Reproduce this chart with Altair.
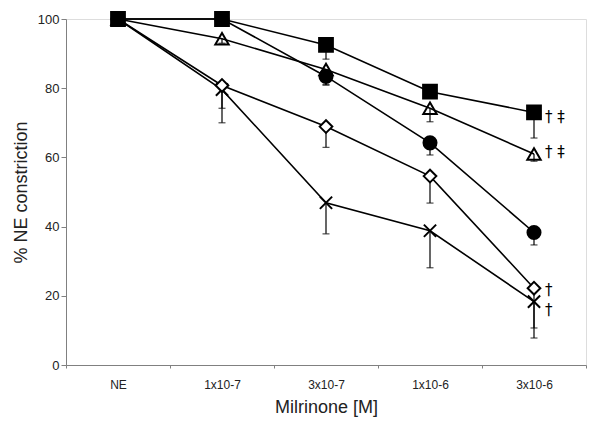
import altair as alt
import pandas as pd

doses = ["NE", "1x10-7", "3x10-7", "1x10-6", "3x10-6"]
series = ["square", "triangle", "circle", "diamond", "cross"]

means = {
    "square":   [100, 100, 92.5, 79.0, 73.0],
    "triangle": [100, 94.3, 85.4, 74.2, 61.0],
    "circle":   [100, 100, 83.4, 64.2, 38.3],
    "diamond":  [100, 80.8, 68.9, 54.6, 22.2],
    "cross":    [100, 79.6, 46.9, 38.8, 18.3],
}
err_low = {
    "square":   [None, None, 88.4, 77.5, 65.6],
    "triangle": [None, 93.0, 81.0, 70.3, 58.9],
    "circle":   [None, None, 80.9, 60.7, 34.7],
    "diamond":  [None, 74.2, 62.9, 46.8, 10.7],
    "cross":    [None, 70.0, 37.9, 28.1, 7.8],
}
ann_series = ["square", "triangle", "diamond", "cross"]
ann_text = ["† ‡", "† ‡", "†", "†"]
ann_y = [71.8, 61.5, 21.7, 15.9]

rows = []
for s in series:
    for i, d in enumerate(doses):
        rows.append({"series": s, "dose": d, "order": i,
                     "mean": means[s][i], "low": err_low[s][i]})
df = pd.DataFrame(rows)
err_df = df.dropna(subset=["low"])
# draw square markers last so they sit on top at the shared 100% points
pt_df = pd.concat([df[df["series"] == s] for s in reversed(series)])
ann_df = pd.DataFrame({"series": ann_series, "dose": [doses[-1]] * 4,
                       "y": ann_y, "text": ann_text})

X_PATH = "M-1,-1L1,1M-1,1L1,-1"

xenc = alt.X("dose:N", sort=doses,
             scale=alt.Scale(domain=doses, paddingInner=0, paddingOuter=0),
             axis=alt.Axis(title="Milrinone [M]", labelAngle=0, tickBand="extent",
                           tickSize=3, labelPadding=11, labelFontSize=12,
                           titleFontSize=18, titleFontWeight="normal",
                           titlePadding=8, domainColor="#808080",
                           tickColor="#808080", labelColor="#222",
                           titleColor="#222"))
yscale = alt.Scale(domain=[0, 100], nice=False)
yenc = alt.Y("mean:Q", scale=yscale,
             axis=alt.Axis(title="% NE constriction", values=list(range(0, 101, 10)),
                           tickSize=5, labelPadding=2, labelFontSize=13,
                           titleFontSize=18, titleFontWeight="normal",
                           titlePadding=7, domainColor="#808080",
                           tickColor="#808080", labelColor="#222",
                           titleColor="#222", grid=False))

base = alt.Chart(df)

lines = base.mark_line(color="black", strokeWidth=1.6).encode(
    x=xenc, y=yenc, detail="series:N", order="order:Q")

rules = alt.Chart(err_df).mark_rule(color="black", strokeWidth=1.2).encode(
    x=alt.X("dose:N", sort=doses), y=alt.Y("mean:Q"), y2="low:Q", detail="series:N")

caps = alt.Chart(err_df).mark_tick(color="black", thickness=1.2, size=7).encode(
    x=alt.X("dose:N", sort=doses), y=alt.Y("low:Q"))

points = alt.Chart(pt_df).mark_point(strokeWidth=2, opacity=1, color="black").encode(
    x=alt.X("dose:N", sort=doses),
    y=alt.Y("mean:Q"),
    shape=alt.Shape("series:N", scale=alt.Scale(
        domain=series,
        range=["square", "triangle-up", "circle", "diamond", X_PATH]), legend=None),
    fill=alt.Fill("series:N", scale=alt.Scale(
        domain=series,
        range=["black", "transparent", "black", "white", "transparent"]), legend=None),
    size=alt.Size("series:N", scale=alt.Scale(
        domain=series, range=[190, 150, 140, 110, 170]), legend=None),
    fillOpacity=alt.value(1),
)

ann = alt.Chart(ann_df).mark_text(align="left", dx=11, fontSize=15,
                                  font="DejaVu Sans", color="#000000",
                                  baseline="middle").encode(
    x=alt.X("dose:N", sort=doses), y=alt.Y("y:Q"), text="text:N")

chart = alt.layer(lines, rules, caps, points, ann).properties(
    width=520, height=346,
    autosize=alt.AutoSizeParams(type="none"),
    padding={"left": 58, "top": 11, "right": 7, "bottom": 56},
).configure_view(stroke="#a0a0a0", strokeWidth=1.2).configure(
    font="Liberation Sans")

chart.save("out.html", embed_options={"renderer": "svg", "actions": False})
